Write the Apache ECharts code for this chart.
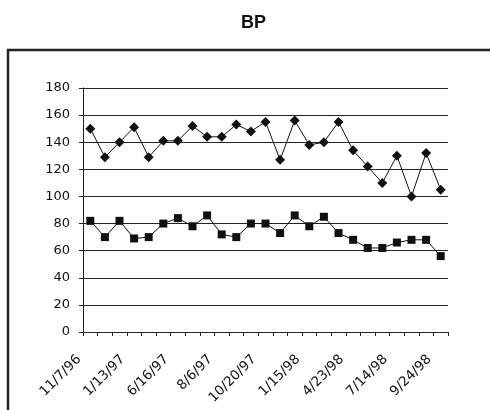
<!DOCTYPE html>
<html>
<head>
<meta charset="utf-8">
<script src="https://cdn.jsdelivr.net/npm/echarts@6/dist/echarts.min.js"></script>
<style>
html,body{margin:0;padding:0;background:#fff;}
#c{width:490px;height:410px;}
</style>
</head>
<body>
<div id="c"></div>
<script>
var titleText = 'BP';
var dates = ['11/7/96','12/2/96','12/20/96','1/13/97','3/10/97','4/28/97','6/16/97','7/8/97','7/22/97','8/6/97','9/2/97','9/29/97','10/20/97','11/17/97','12/15/97','1/15/98','2/12/98','3/19/98','4/23/98','5/21/98','6/18/98','7/14/98','8/4/98','8/27/98','9/24/98'];
var systolic = [150,129,140,151,129,141,141,152,144,144,153,148,155,127,156,138,140,155,134,122,110,130,100,132,105];
var diastolic = [82,70,82,69,70,80,84,78,86,72,70,80,80,73,86,78,85,73,68,62,62,66,68,68,56];
var yMin = 0, yMax = 180, yStep = 20;

var chart = echarts.init(document.getElementById('c'));
var font = 'DejaVu Sans';
chart.setOption({
  animation: false,
  backgroundColor: '#fff',
  title: {
    text: titleText, left: 236, top: 9,
    textStyle: {fontFamily: 'Liberation Sans', fontWeight: 'bold', fontSize: 18, color: '#111'}
  },
  graphic: [{
    type: 'rect',
    shape: {x: 8, y: 50, width: 500, height: 400},
    style: {fill: 'none', stroke: '#222', lineWidth: 2.5},
    silent: true
  }],
  grid: {left: 83, right: 42, top: 88, bottom: 78, containLabel: false, outerBoundsMode: 'none'},
  xAxis: {
    type: 'category',
    data: dates,
    boundaryGap: true,
    axisLine: {lineStyle: {color: '#222', width: 1}},
    axisTick: {show: true, interval: 0, length: 4, alignWithLabel: false, lineStyle: {color: '#222'}},
    axisLabel: {interval: 2, rotate: 45, fontFamily: font, fontSize: 13.5, color: '#111', margin: 14, padding: [0, 16, 0, 0]}
  },
  yAxis: {
    type: 'value',
    min: yMin, max: yMax, interval: yStep,
    axisLine: {show: true, lineStyle: {color: '#222', width: 1}},
    axisTick: {show: true, length: 4, lineStyle: {color: '#222'}},
    axisLabel: {fontFamily: font, fontSize: 13, color: '#111', margin: 13},
    splitLine: {show: true, lineStyle: {color: '#222', width: 1}}
  },
  series: [{
    type: 'line', data: systolic,
    symbol: 'diamond', symbolSize: 10, showAllSymbol: true,
    lineStyle: {color: '#111', width: 1},
    itemStyle: {color: '#111'}
  }, {
    type: 'line', data: diastolic,
    symbol: 'rect', symbolSize: 8, showAllSymbol: true,
    lineStyle: {color: '#111', width: 1},
    itemStyle: {color: '#111'}
  }]
});
</script>
</body>
</html>
